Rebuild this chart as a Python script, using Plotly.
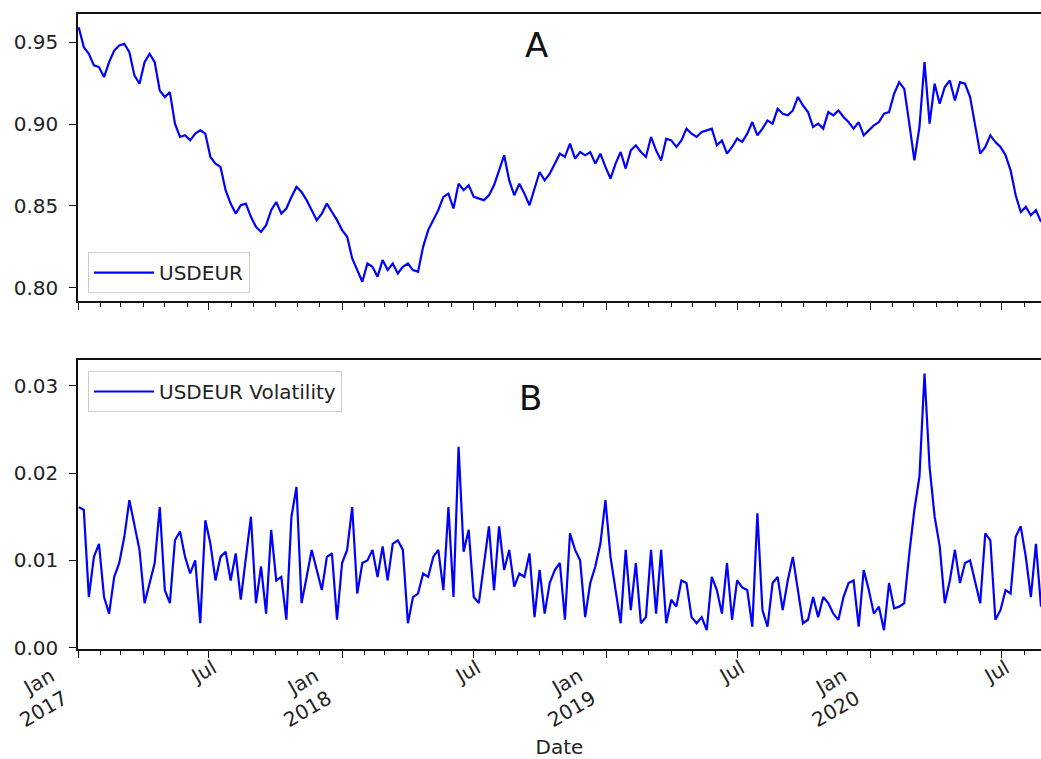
import pandas as pd
import plotly.graph_objects as go

# ---- data (weekly readings from the reference) ----
start_date = "2017-01-02"
n_points = 191

usdeur = [
    0.9591, 0.9470, 0.9429, 0.9358, 0.9348, 0.9287, 0.9378, 0.9449, 0.9480, 0.9490,
    0.9439, 0.9297, 0.9246, 0.9378, 0.9429, 0.9378, 0.9205, 0.9165, 0.9195, 0.9002,
    0.8921, 0.8931, 0.8900, 0.8941, 0.8961, 0.8941, 0.8799, 0.8758, 0.8738, 0.8596,
    0.8514, 0.8453, 0.8504, 0.8514, 0.8433, 0.8372, 0.8341, 0.8382, 0.8474, 0.8524,
    0.8453, 0.8484, 0.8555, 0.8616, 0.8585, 0.8535, 0.8474, 0.8413, 0.8453, 0.8514,
    0.8463, 0.8413, 0.8352, 0.8311, 0.8179, 0.8108, 0.8037, 0.8148, 0.8128, 0.8067,
    0.8169, 0.8108, 0.8148, 0.8087, 0.8128, 0.8148, 0.8108, 0.8098, 0.8250, 0.8352,
    0.8413, 0.8474, 0.8555, 0.8575, 0.8484, 0.8636, 0.8596, 0.8626, 0.8555, 0.8545,
    0.8535, 0.8565, 0.8626, 0.8717, 0.8809, 0.8656, 0.8565, 0.8636, 0.8575, 0.8504,
    0.8606, 0.8707, 0.8656, 0.8697, 0.8758, 0.8819, 0.8799, 0.8880, 0.8789, 0.8829,
    0.8809, 0.8829, 0.8758, 0.8819, 0.8738, 0.8667, 0.8758, 0.8829, 0.8728, 0.8839,
    0.8870, 0.8829, 0.8799, 0.8921, 0.8839, 0.8778, 0.8911, 0.8900, 0.8860, 0.8900,
    0.8972, 0.8941, 0.8921, 0.8951, 0.8961, 0.8972, 0.8870, 0.8900, 0.8819, 0.8860,
    0.8911, 0.8890, 0.8941, 0.9012, 0.8931, 0.8972, 0.9022, 0.9002, 0.9093, 0.9063,
    0.9053, 0.9083, 0.9165, 0.9114, 0.9073, 0.8982, 0.9002, 0.8972, 0.9073, 0.9053,
    0.9083, 0.9043, 0.9012, 0.8972, 0.9012, 0.8931, 0.8961, 0.8992, 0.9012, 0.9063,
    0.9073, 0.9185, 0.9256, 0.9215, 0.9002, 0.8778, 0.8982, 0.9378, 0.9002, 0.9246,
    0.9124, 0.9226, 0.9266, 0.9144, 0.9256, 0.9246, 0.9165, 0.8982, 0.8819, 0.8860,
    0.8931, 0.8890, 0.8860, 0.8809, 0.8717, 0.8565, 0.8463, 0.8494, 0.8443, 0.8474,
    0.8402,
]

volatility = [
    0.0161, 0.0158, 0.0058, 0.0104, 0.0119, 0.0058, 0.0039, 0.0081, 0.0097, 0.0127,
    0.0169, 0.0139, 0.0112, 0.0051, 0.0074, 0.0097, 0.0161, 0.0066, 0.0051, 0.0123,
    0.0133, 0.0104, 0.0085, 0.0100, 0.0028, 0.0146, 0.0119, 0.0077, 0.0104, 0.0110,
    0.0077, 0.0108, 0.0055, 0.0100, 0.0150, 0.0051, 0.0093, 0.0039, 0.0135, 0.0077,
    0.0081, 0.0032, 0.0150, 0.0184, 0.0051, 0.0081, 0.0112, 0.0089, 0.0066, 0.0104,
    0.0108, 0.0032, 0.0097, 0.0112, 0.0161, 0.0062, 0.0097, 0.0100, 0.0112, 0.0081,
    0.0116, 0.0077, 0.0119, 0.0123, 0.0112, 0.0028, 0.0058, 0.0062, 0.0085, 0.0081,
    0.0104, 0.0112, 0.0066, 0.0161, 0.0058, 0.0230, 0.0110, 0.0135, 0.0058, 0.0051,
    0.0097, 0.0139, 0.0066, 0.0139, 0.0089, 0.0112, 0.0070, 0.0085, 0.0081, 0.0108,
    0.0035, 0.0089, 0.0039, 0.0074, 0.0089, 0.0097, 0.0032, 0.0131, 0.0112, 0.0100,
    0.0035, 0.0074, 0.0093, 0.0119, 0.0169, 0.0104, 0.0066, 0.0028, 0.0112, 0.0043,
    0.0097, 0.0028, 0.0035, 0.0112, 0.0039, 0.0112, 0.0028, 0.0055, 0.0047, 0.0077,
    0.0074, 0.0035, 0.0028, 0.0035, 0.0020, 0.0081, 0.0066, 0.0039, 0.0097, 0.0032,
    0.0077, 0.0069, 0.0066, 0.0024, 0.0154, 0.0043, 0.0024, 0.0074, 0.0081, 0.0043,
    0.0077, 0.0104, 0.0066, 0.0028, 0.0032, 0.0058, 0.0035, 0.0058, 0.0051, 0.0039,
    0.0032, 0.0058, 0.0074, 0.0077, 0.0024, 0.0089, 0.0066, 0.0039, 0.0047, 0.0020,
    0.0074, 0.0045, 0.0047, 0.0051, 0.0108, 0.0158, 0.0196, 0.0314, 0.0207, 0.0150,
    0.0116, 0.0051, 0.0077, 0.0112, 0.0074, 0.0097, 0.0100, 0.0077, 0.0051, 0.0131,
    0.0123, 0.0032, 0.0043, 0.0066, 0.0062, 0.0127, 0.0139, 0.0104, 0.0058, 0.0119,
    0.0047,
]

x_tick_dates = ["2017-01-01", "2017-07-01", "2018-01-01", "2018-07-01",
                "2019-01-01", "2019-07-01", "2020-01-01", "2020-07-01"]
x_tick_text = ["Jan<br>2017", "Jul", "Jan<br>2018", "Jul",
               "Jan<br>2019", "Jul", "Jan<br>2020", "Jul"]
y1_ticks = [0.80, 0.85, 0.90, 0.95]
y2_ticks = [0.00, 0.01, 0.02, 0.03]

dates = pd.date_range(start_date, periods=n_points, freq="7D")

# split the labels: single-line ("Jul") and two-line ("Jan / year") labels
jul_text = [t if "<br>" not in t else "" for t in x_tick_text]
jan_vals = [d for d, t in zip(x_tick_dates, x_tick_text) if "<br>" in t]
jan_text = [t for t in x_tick_text if "<br>" in t]

FONT = "DejaVu Sans"
TXT = "#222222"
x_range = ["2017-01-01", "2020-08-24"]

fig = go.Figure()
fig.add_trace(go.Scatter(x=dates, y=usdeur, mode="lines", name="USDEUR",
                         line=dict(color="#0000ff", width=2.2),
                         xaxis="x", yaxis="y", legend="legend"))
fig.add_trace(go.Scatter(x=dates, y=volatility, mode="lines", name="USDEUR Volatility",
                         line=dict(color="#0000ff", width=2.2),
                         xaxis="x2", yaxis="y2", legend="legend2"))
# empty trace so the overlaid label-only axis (x3) is rendered
fig.add_trace(go.Scatter(x=[], y=[], mode="lines", showlegend=False, hoverinfo="skip",
                         xaxis="x3", yaxis="y2"))

common_x = dict(
    type="date", range=x_range, showline=True, linecolor="#111111", linewidth=1.5,
    mirror=True, showgrid=False, zeroline=False,
    tickmode="array", tickvals=x_tick_dates,
    ticks="outside", ticklen=7, tickwidth=1.3, tickcolor="#111111",
    minor=dict(ticks="outside", ticklen=4, tickwidth=1.1, tickcolor="#111111",
               dtick="M1", tick0="2017-01-01", showgrid=False),
)
common_y = dict(
    showline=True, linecolor="#111111", linewidth=1.5, mirror=False,
    showgrid=False, zeroline=False, ticks="outside", ticklen=7, tickwidth=1.3,
    tickcolor="#111111", tickformat=".2f", ticklabelstandoff=7,
    tickfont=dict(family=FONT, size=20, color=TXT),
)
xfont = dict(family=FONT, size=20, color=TXT)

fig.update_layout(
    width=1041, height=759,
    margin=dict(l=78, r=0, t=14, b=110),
    paper_bgcolor="white", plot_bgcolor="white",
    font=dict(family=FONT, size=20, color=TXT),
    xaxis=dict(domain=[0, 1], anchor="y", showticklabels=False,
               ticktext=x_tick_text, **common_x),
    yaxis=dict(domain=[0.548, 1.0], anchor="x", range=[0.7919, 0.9672],
               tickmode="array", tickvals=y1_ticks, **common_y),
    xaxis2=dict(domain=[0, 1], anchor="y2", showticklabels=True, tickangle=-30,
                ticktext=jul_text, tickfont=xfont, ticklabelstandoff=-9, ticklabelshift=4,
                title=dict(text="Date", font=dict(family=FONT, size=20, color=TXT), standoff=56),
                **common_x),
    xaxis3=dict(type="date", range=x_range, overlaying="x2", anchor="y2", side="bottom",
                showline=False, showgrid=False, zeroline=False, ticks="",
                tickmode="array", tickvals=jan_vals, ticktext=jan_text,
                tickangle=-30, tickfont=xfont, ticklabelstandoff=11, ticklabelshift=-27),
    yaxis2=dict(domain=[0.0, 0.455], anchor="x2", range=[-0.00015, 0.03294],
                tickmode="array", tickvals=y2_ticks, **common_y),
    legend=dict(x=0.0104, y=0.625, xanchor="left", yanchor="top", itemwidth=60,
                bordercolor="#cccccc", borderwidth=1, bgcolor="rgba(255,255,255,0.8)",
                font=dict(family=FONT, size=20, color=TXT)),
    legend2=dict(x=0.0104, y=0.4378, xanchor="left", yanchor="top", itemwidth=60,
                 bordercolor="#cccccc", borderwidth=1, bgcolor="rgba(255,255,255,0.8)",
                 font=dict(family=FONT, size=20, color=TXT)),
    annotations=[
        dict(text="A", x=0.4756, y=0.951, xref="paper", yref="paper", showarrow=False,
             xanchor="center", yanchor="middle", font=dict(family=FONT, size=34, color="#111111")),
        dict(text="B", x=0.4704, y=0.3953, xref="paper", yref="paper", showarrow=False,
             xanchor="center", yanchor="middle", font=dict(family=FONT, size=34, color="#111111")),
    ],
    showlegend=True,
)

fig.write_html("out.html", config={"displayModeBar": False},
               post_script="document.body.style.margin='0px';")
